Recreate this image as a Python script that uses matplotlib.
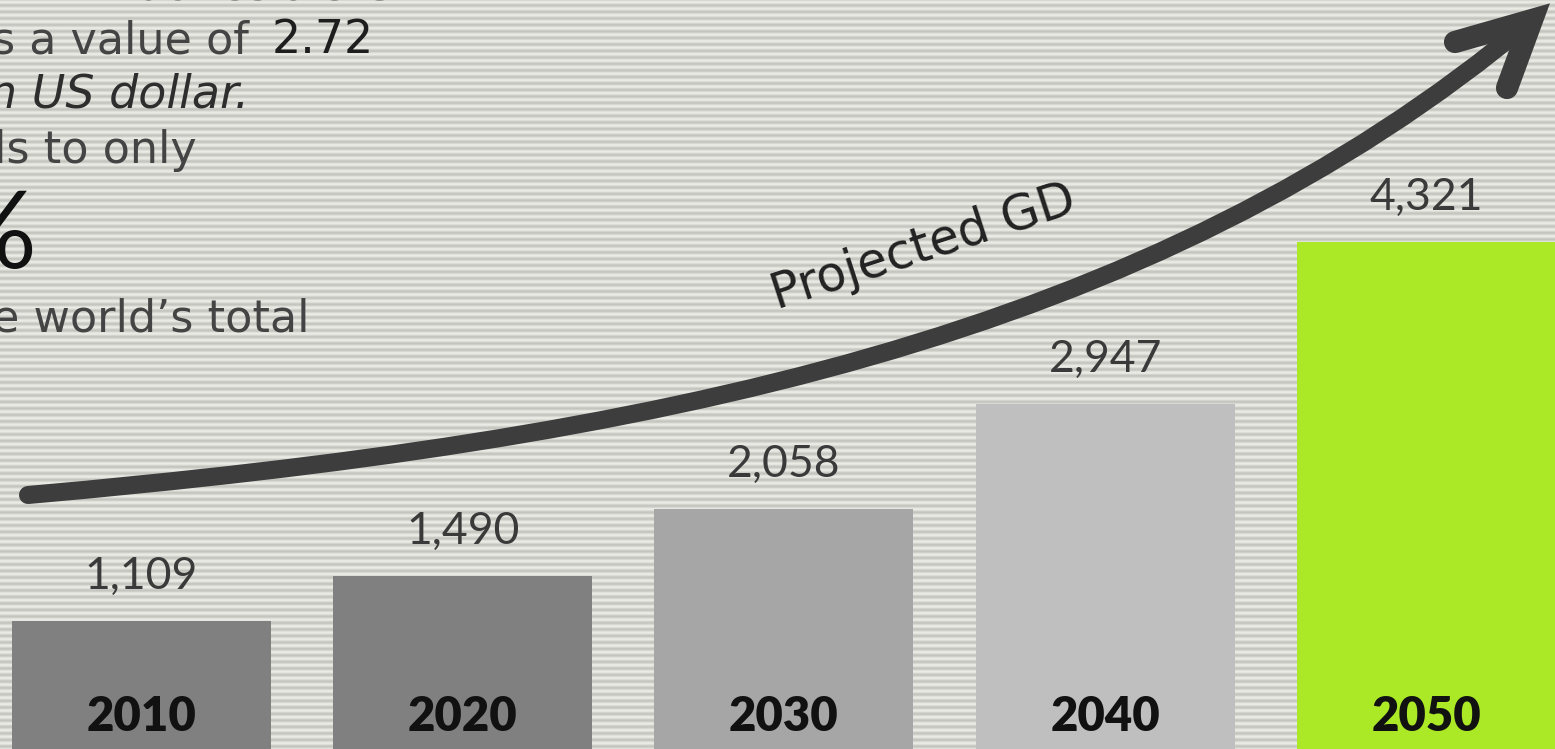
import numpy as np
import matplotlib
matplotlib.use("Agg")
import matplotlib.pyplot as plt
from matplotlib.path import Path
from matplotlib.patches import PathPatch

plt.rcParams['font.family'] = ['Lato', 'DejaVu Sans']

# data
years = ["2010", "2020", "2030", "2040", "2050"]
gdp = [1109, 1490, 2058, 2947, 4321]
bar_colors = ["#808080", "#808080", "#a6a6a6", "#bfbfbf", "#abe826"]

# left side text block (cropped in the original)
side_lines = ["in Indonesia\u2019s GDP", "s a value of", "n US dollar.", "ls to only", "e world\u2019s total"]
side_value = "2.72"

# trend arrow control points, in image pixels
arrow_path = [(28, 495), (650, 440), (1150, 340), (1532, 20)]
arrow_head = [(1455, 42), (1532, 20), (1507, 88)]

W, H = 1555, 749
fig = plt.figure(figsize=(W / 100, H / 100), dpi=100)

# striped background
bg = fig.add_axes([0, 0, 1, 1], zorder=0)
rows = np.arange(H)
stripe = 0.5 + 0.5 * np.sin(2 * np.pi * rows / 6.5)
light = np.array([0.925, 0.925, 0.905])
dark = np.array([0.775, 0.775, 0.755])
img = dark[None, :] + stripe[:, None] * (light - dark)[None, :]
bg.imshow(img[:, None, :], aspect="auto", extent=(0, W, H, 0))
bg.set_xlim(0, W)
bg.set_ylim(H, 0)
bg.axis("off")

# bars
ax = fig.add_axes([0, 0, 1, 1], zorder=1)
ax.patch.set_alpha(0)
x = np.arange(len(years))
ax.bar(x, gdp, width=0.806, color=bar_colors, zorder=2)
for i, v in enumerate(gdp):
    ax.text(i, v + 200, f"{v:,}", ha="center", va="bottom", fontsize=32,
            color="#3a3a3a")
    ax.text(i, 300, years[i], ha="center", va="center", fontsize=34,
            fontweight="heavy", color="#111111")
ax.set_xlim(-0.44, 4.40)
ax.set_ylim(25, 6366)
ax.axis("off")

# overlay with arrow and the text block
ov = fig.add_axes([0, 0, 1, 1], zorder=2)
ov.patch.set_alpha(0)
ov.set_xlim(0, W)
ov.set_ylim(H, 0)
ov.axis("off")

codes = [Path.MOVETO, Path.CURVE4, Path.CURVE4, Path.CURVE4]
ov.add_patch(PathPatch(Path(arrow_path, codes), fill=False, edgecolor="#3d3d3d",
                       lw=13, capstyle="round"))
hx, hy = zip(*arrow_head)
ov.plot(hx, hy, color="#3d3d3d", lw=16, solid_capstyle="round", solid_joinstyle="miter")

ov.text(923, 247, "Projected GD", rotation=18, ha="center", va="center",
        fontsize=35, color="#222222", family="DejaVu Sans", rotation_mode="anchor")

txt = dict(fontsize=32, color="#444444", va="baseline", ha="left", family="DejaVu Sans")
ov.text(40, -1, side_lines[0], **txt)
ov.text(-8, 53, side_lines[1], **txt)
ov.text(272, 53, side_value, fontsize=33, color="#1e1e1e", va="baseline", ha="left",
        family="DejaVu Sans")
ov.text(-12, 108, side_lines[2], fontsize=33, color="#2e2e2e", style="italic",
        va="baseline", ha="left", family="DejaVu Sans")
ov.text(-6, 163, side_lines[3], **txt)
ov.text(36, 268, "%", fontsize=78, color="#111111", va="baseline", ha="right")
ov.text(-8, 331, side_lines[4], **txt)

fig.savefig("out.png", dpi=100)
